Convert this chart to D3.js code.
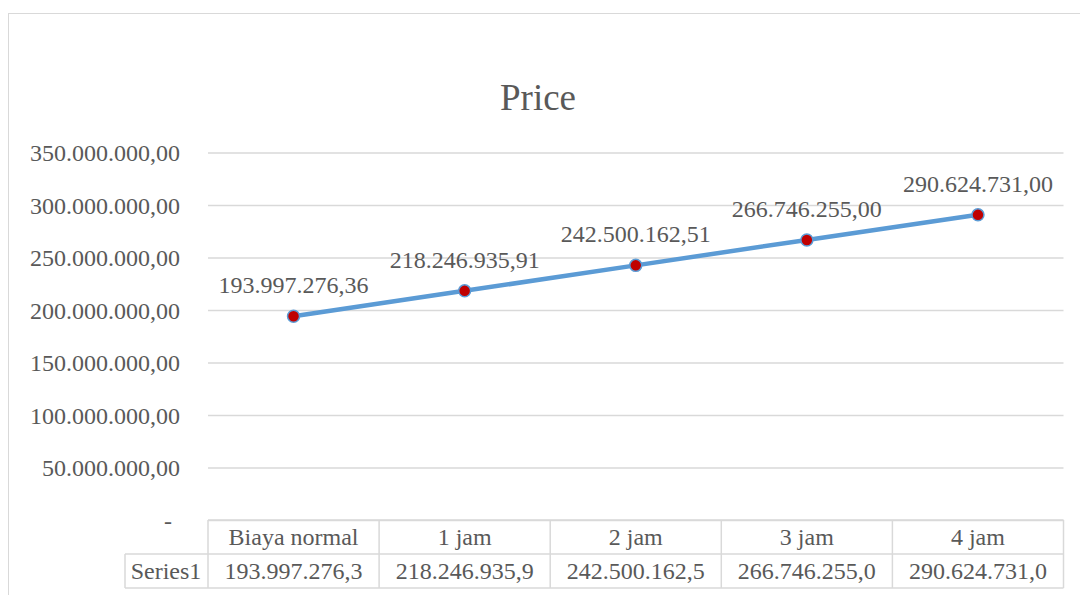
<!DOCTYPE html>
<html>
<head>
<meta charset="utf-8">
<script src="https://cdn.jsdelivr.net/npm/d3@7"></script>
<style>
  body { margin: 0; background: #fff; }
  svg { display: block; }
</style>
</head>
<body>
<div id="chart"></div>
<script>
const categories = ["Biaya normal", "1 jam", "2 jam", "3 jam", "4 jam"];
const seriesName = "Series1";
const values = [193997276.36, 218246935.91, 242500162.51, 266746255.00, 290624731.00];
const yTicks = [0, 50000000, 100000000, 150000000, 200000000, 250000000, 300000000, 350000000];

const W = 1080, H = 595;
const gridColor = "#d9d9d9";
const textColor = "#595959";
const serif = "'Liberation Serif', 'Times New Roman', serif";
const plot = {left: 208, right: 1063.5, top: 152.5, bottom: 520};

const idLocale = d3.formatLocale({decimal: ",", thousands: ".", grouping: [3], currency: ["", ""]});
const fmt = idLocale.format(",.2f");

const svg = d3.select("#chart").append("svg")
    .attr("width", W).attr("height", H);

// chart frame
svg.append("rect")
    .attr("x", 8.5).attr("y", 13.5)
    .attr("width", W + 10).attr("height", H + 10)
    .attr("fill", "#fff").attr("stroke", gridColor);

svg.append("text")
    .attr("x", 538).attr("y", 110)
    .attr("text-anchor", "middle")
    .style("font-family", serif).style("font-size", "37px").style("fill", textColor)
    .text("Price");

const x = d3.scaleBand().domain(categories).range([plot.left, plot.right]).padding(0);
const y = d3.scaleLinear().domain([0, 350000000]).range([plot.bottom, plot.top]);

// y axis + gridlines
const yAxis = svg.append("g")
    .attr("transform", "translate(" + plot.left + ",0)")
    .call(d3.axisLeft(y).tickValues(yTicks)
        .tickSize(-(plot.right - plot.left))
        .tickPadding(28)
        .tickFormat(d => d === 0 ? "-" : fmt(d)));
yAxis.select(".domain").remove();
yAxis.selectAll(".tick line").attr("stroke", gridColor).attr("stroke-width", 1.3);
yAxis.selectAll(".tick text")
    .style("font-family", serif).style("font-size", "24px").style("fill", textColor)
    .attr("dy", "0.35em");
yAxis.selectAll(".tick").filter(d => d === 0).select("text")
    .attr("x", -36);

// data table
const rowH = 34;
const table = svg.append("g");
const tTop = plot.bottom;
function hline(x1, x2, yy) {
  table.append("line")
      .attr("x1", x1).attr("x2", x2).attr("y1", yy).attr("y2", yy)
      .attr("stroke", gridColor).attr("stroke-width", 1.5);
}
hline(plot.left, plot.right, tTop);
hline(125, plot.right, tTop + rowH);
hline(125, plot.right, tTop + rowH * 2);
table.append("line")
    .attr("x1", 125).attr("x2", 125)
    .attr("y1", tTop + rowH).attr("y2", tTop + rowH * 2)
    .attr("stroke", gridColor).attr("stroke-width", 1.5);
const edges = categories.map(c => x(c)).concat([plot.right]);
table.selectAll(".vline").data(edges).enter().append("line")
    .attr("x1", d => d).attr("x2", d => d)
    .attr("y1", tTop).attr("y2", tTop + rowH * 2)
    .attr("stroke", gridColor).attr("stroke-width", 1.5);

function cellText(sel) {
  sel.attr("dy", "0.35em")
     .attr("text-anchor", "middle")
     .style("font-family", serif).style("font-size", "24px").style("fill", textColor);
}
table.selectAll(".cat").data(categories).enter().append("text")
    .attr("x", d => x(d) + x.bandwidth() / 2)
    .attr("y", tTop + rowH / 2)
    .call(cellText)
    .text(d => d);
table.selectAll(".val").data(values).enter().append("text")
    .attr("x", (d, i) => x(categories[i]) + x.bandwidth() / 2)
    .attr("y", tTop + rowH * 1.5)
    .call(cellText)
    .text(d => fmt(d).slice(0, -1));
table.append("text")
    .attr("x", 166).attr("y", tTop + rowH * 1.5)
    .call(cellText)
    .text(seriesName);

// series line
const cx = (d, i) => x(categories[i]) + x.bandwidth() / 2;
const line = d3.line().x(cx).y(d => y(d));
svg.append("path")
    .datum(values)
    .attr("d", line)
    .attr("fill", "none")
    .attr("stroke", "#5B9BD5")
    .attr("stroke-width", 4.5)
    .attr("stroke-linecap", "round");

svg.selectAll(".pt").data(values).enter().append("circle")
    .attr("cx", cx).attr("cy", d => y(d))
    .attr("r", 6)
    .attr("fill", "#C00000")
    .attr("stroke", "#5B9BD5")
    .attr("stroke-width", 1.5);

svg.selectAll(".lbl").data(values).enter().append("text")
    .attr("x", cx).attr("y", d => y(d) - 23)
    .attr("text-anchor", "middle")
    .style("font-family", serif).style("font-size", "24px").style("fill", textColor)
    .text(d => fmt(d));
</script>
</body>
</html>
